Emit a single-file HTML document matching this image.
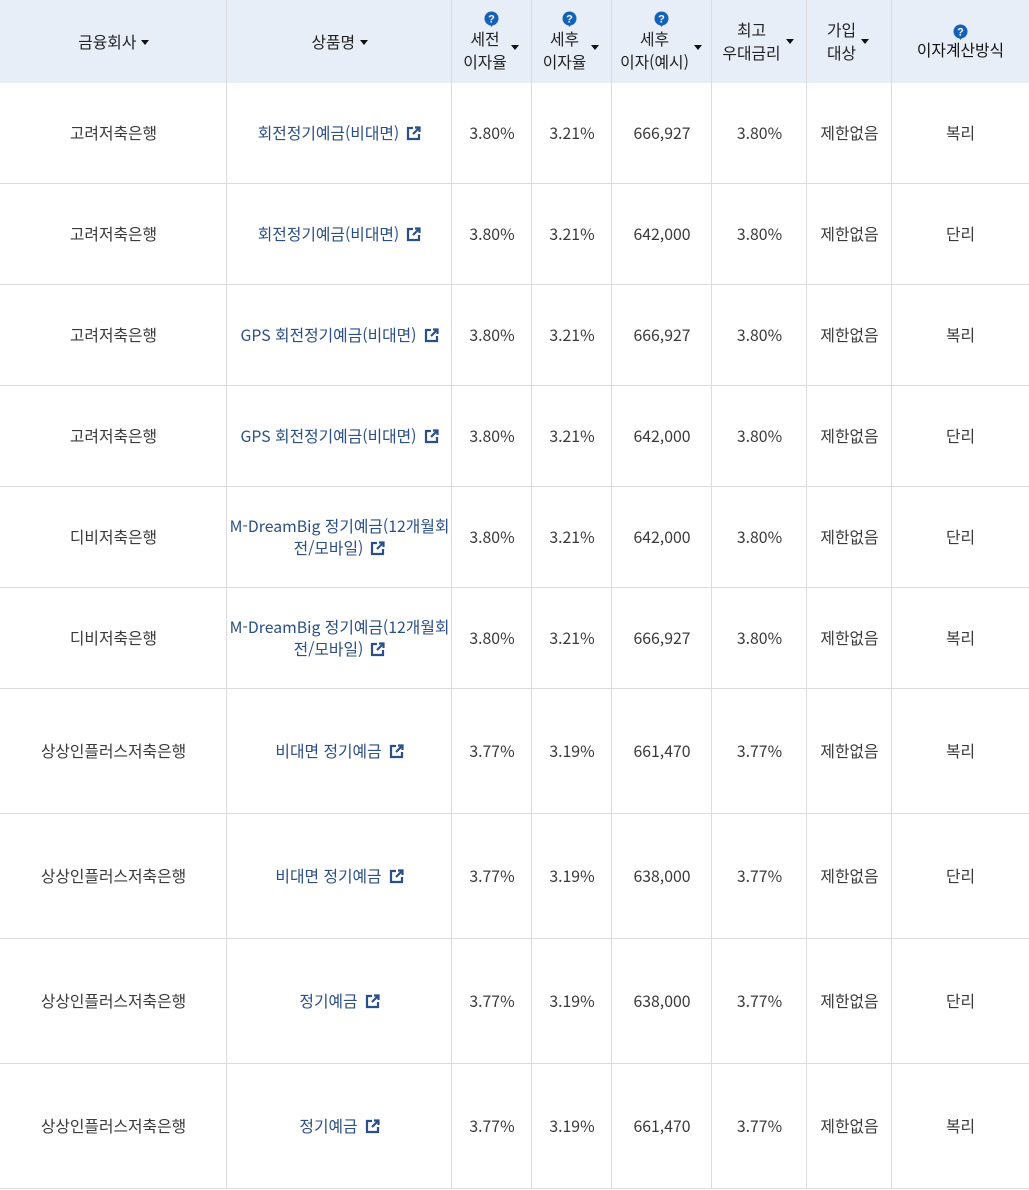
<!DOCTYPE html>
<html lang="ko">
<head>
<meta charset="utf-8">
<style>
*{margin:0;padding:0;box-sizing:border-box}
html,body{width:1029px;height:1190px;background:#fff;overflow:hidden}
body{position:relative;font-family:"Noto Sans CJK KR","Liberation Sans",sans-serif;font-size:15.8px;color:#3a3a3a}
.hd{position:absolute;left:0;top:0;width:1029px;height:83px;background:#e8eef7}
.vl{position:absolute;top:0;width:1px;height:1189px;background:#dcdcdc}
.row{position:absolute;left:0;width:1029px;display:flex;border-bottom:1px solid #dcdcdc}
.row div{display:flex;align-items:center;justify-content:center;text-align:center;line-height:22px}
.c1{width:227px}.c2{width:225px}.c3{width:80px}.c4{width:80px}.c5{width:100px}.c6{width:95px}.c7{width:85px}.c8{width:137px}
.lk{color:#2b4f88}
.lk svg{margin-left:7px;vertical-align:-2px}
.ht{position:absolute;color:#222;line-height:23px;white-space:nowrap;text-align:center}
.tri{display:inline-block;width:0;height:0;border-left:4px solid transparent;border-right:4px solid transparent;border-top:5px solid #111}
.atri{position:absolute}
.q{position:absolute}
</style>
</head>
<body>
<div class="hd"></div>

<div class="ht" style="left:0;top:30px;width:227px">금융회사 <span class="tri" style="vertical-align:3px"></span></div>
<div class="ht" style="left:227px;top:30px;width:225px">상품명 <span class="tri" style="vertical-align:3px"></span></div>

<svg class="q" style="left:484px;top:11px" width="15" height="17" viewBox="0 0 15 17"><circle cx="7.5" cy="7.5" r="7" fill="#1461b9"/><polygon points="5.5,13 9.5,13 7.5,16" fill="#1461b9"/><text x="7.5" y="11.5" font-size="11" font-weight="bold" fill="#fff" text-anchor="middle" font-family="Liberation Sans, sans-serif">?</text></svg>
<div class="ht" style="left:455px;top:27px;width:60px">세전<br>이자율</div>
<span class="tri atri" style="left:511px;top:45px"></span>

<svg class="q" style="left:562px;top:11px" width="15" height="17" viewBox="0 0 15 17"><circle cx="7.5" cy="7.5" r="7" fill="#1461b9"/><polygon points="5.5,13 9.5,13 7.5,16" fill="#1461b9"/><text x="7.5" y="11.5" font-size="11" font-weight="bold" fill="#fff" text-anchor="middle" font-family="Liberation Sans, sans-serif">?</text></svg>
<div class="ht" style="left:534px;top:27px;width:61px">세후<br>이자율</div>
<span class="tri atri" style="left:591px;top:45px"></span>

<svg class="q" style="left:654px;top:11px" width="15" height="17" viewBox="0 0 15 17"><circle cx="7.5" cy="7.5" r="7" fill="#1461b9"/><polygon points="5.5,13 9.5,13 7.5,16" fill="#1461b9"/><text x="7.5" y="11.5" font-size="11" font-weight="bold" fill="#fff" text-anchor="middle" font-family="Liberation Sans, sans-serif">?</text></svg>
<div class="ht" style="left:614px;top:27px;width:81px">세후<br>이자(예시)</div>
<span class="tri atri" style="left:694px;top:45px"></span>

<div class="ht" style="left:716px;top:18px;width:71px">최고<br>우대금리</div>
<span class="tri atri" style="left:786px;top:39px"></span>

<div class="ht" style="left:816px;top:18px;width:51px">가입<br>대상</div>
<span class="tri atri" style="left:861px;top:39px"></span>

<svg class="q" style="left:953px;top:24px" width="15" height="17" viewBox="0 0 15 17"><circle cx="7.5" cy="7.5" r="7" fill="#1461b9"/><polygon points="5.5,13 9.5,13 7.5,16" fill="#1461b9"/><text x="7.5" y="11.5" font-size="11" font-weight="bold" fill="#fff" text-anchor="middle" font-family="Liberation Sans, sans-serif">?</text></svg>
<div class="ht" style="left:892px;top:38px;width:137px;color:#111">이자계산방식</div>

<div class="row" style="top:83px;height:101px"><div class="c1">고려저축은행</div><div class="c2 lk">회전정기예금(비대면)<svg width="15" height="15" viewBox="0 0 15 15"><path d="M7 2H2v11h11V8" fill="none" stroke="#2b4f88" stroke-width="2.2"/><path d="M7 8L13 2M9 1.5h4.5V6" fill="none" stroke="#2b4f88" stroke-width="2.2"/></svg></div><div class="c3">3.80%</div><div class="c4">3.21%</div><div class="c5">666,927</div><div class="c6">3.80%</div><div class="c7">제한없음</div><div class="c8">복리</div></div>

<div class="row" style="top:184px;height:101px"><div class="c1">고려저축은행</div><div class="c2 lk">회전정기예금(비대면)<svg width="15" height="15" viewBox="0 0 15 15"><path d="M7 2H2v11h11V8" fill="none" stroke="#2b4f88" stroke-width="2.2"/><path d="M7 8L13 2M9 1.5h4.5V6" fill="none" stroke="#2b4f88" stroke-width="2.2"/></svg></div><div class="c3">3.80%</div><div class="c4">3.21%</div><div class="c5">642,000</div><div class="c6">3.80%</div><div class="c7">제한없음</div><div class="c8">단리</div></div>

<div class="row" style="top:285px;height:101px"><div class="c1">고려저축은행</div><div class="c2 lk">GPS 회전정기예금(비대면)<svg width="15" height="15" viewBox="0 0 15 15"><path d="M7 2H2v11h11V8" fill="none" stroke="#2b4f88" stroke-width="2.2"/><path d="M7 8L13 2M9 1.5h4.5V6" fill="none" stroke="#2b4f88" stroke-width="2.2"/></svg></div><div class="c3">3.80%</div><div class="c4">3.21%</div><div class="c5">666,927</div><div class="c6">3.80%</div><div class="c7">제한없음</div><div class="c8">복리</div></div>

<div class="row" style="top:386px;height:101px"><div class="c1">고려저축은행</div><div class="c2 lk">GPS 회전정기예금(비대면)<svg width="15" height="15" viewBox="0 0 15 15"><path d="M7 2H2v11h11V8" fill="none" stroke="#2b4f88" stroke-width="2.2"/><path d="M7 8L13 2M9 1.5h4.5V6" fill="none" stroke="#2b4f88" stroke-width="2.2"/></svg></div><div class="c3">3.80%</div><div class="c4">3.21%</div><div class="c5">642,000</div><div class="c6">3.80%</div><div class="c7">제한없음</div><div class="c8">단리</div></div>

<div class="row" style="top:487px;height:101px"><div class="c1">디비저축은행</div><div class="c2 lk"><span>M-DreamBig 정기예금(12개월회<br>전/모바일)<svg width="15" height="15" viewBox="0 0 15 15"><path d="M7 2H2v11h11V8" fill="none" stroke="#2b4f88" stroke-width="2.2"/><path d="M7 8L13 2M9 1.5h4.5V6" fill="none" stroke="#2b4f88" stroke-width="2.2"/></svg></span></div><div class="c3">3.80%</div><div class="c4">3.21%</div><div class="c5">642,000</div><div class="c6">3.80%</div><div class="c7">제한없음</div><div class="c8">단리</div></div>

<div class="row" style="top:588px;height:101px"><div class="c1">디비저축은행</div><div class="c2 lk"><span>M-DreamBig 정기예금(12개월회<br>전/모바일)<svg width="15" height="15" viewBox="0 0 15 15"><path d="M7 2H2v11h11V8" fill="none" stroke="#2b4f88" stroke-width="2.2"/><path d="M7 8L13 2M9 1.5h4.5V6" fill="none" stroke="#2b4f88" stroke-width="2.2"/></svg></span></div><div class="c3">3.80%</div><div class="c4">3.21%</div><div class="c5">666,927</div><div class="c6">3.80%</div><div class="c7">제한없음</div><div class="c8">복리</div></div>

<div class="row" style="top:689px;height:125px"><div class="c1">상상인플러스저축은행</div><div class="c2 lk">비대면 정기예금<svg width="15" height="15" viewBox="0 0 15 15"><path d="M7 2H2v11h11V8" fill="none" stroke="#2b4f88" stroke-width="2.2"/><path d="M7 8L13 2M9 1.5h4.5V6" fill="none" stroke="#2b4f88" stroke-width="2.2"/></svg></div><div class="c3">3.77%</div><div class="c4">3.19%</div><div class="c5">661,470</div><div class="c6">3.77%</div><div class="c7">제한없음</div><div class="c8">복리</div></div>

<div class="row" style="top:814px;height:125px"><div class="c1">상상인플러스저축은행</div><div class="c2 lk">비대면 정기예금<svg width="15" height="15" viewBox="0 0 15 15"><path d="M7 2H2v11h11V8" fill="none" stroke="#2b4f88" stroke-width="2.2"/><path d="M7 8L13 2M9 1.5h4.5V6" fill="none" stroke="#2b4f88" stroke-width="2.2"/></svg></div><div class="c3">3.77%</div><div class="c4">3.19%</div><div class="c5">638,000</div><div class="c6">3.77%</div><div class="c7">제한없음</div><div class="c8">단리</div></div>

<div class="row" style="top:939px;height:125px"><div class="c1">상상인플러스저축은행</div><div class="c2 lk">정기예금<svg width="15" height="15" viewBox="0 0 15 15"><path d="M7 2H2v11h11V8" fill="none" stroke="#2b4f88" stroke-width="2.2"/><path d="M7 8L13 2M9 1.5h4.5V6" fill="none" stroke="#2b4f88" stroke-width="2.2"/></svg></div><div class="c3">3.77%</div><div class="c4">3.19%</div><div class="c5">638,000</div><div class="c6">3.77%</div><div class="c7">제한없음</div><div class="c8">단리</div></div>

<div class="row" style="top:1064px;height:125px"><div class="c1">상상인플러스저축은행</div><div class="c2 lk">정기예금<svg width="15" height="15" viewBox="0 0 15 15"><path d="M7 2H2v11h11V8" fill="none" stroke="#2b4f88" stroke-width="2.2"/><path d="M7 8L13 2M9 1.5h4.5V6" fill="none" stroke="#2b4f88" stroke-width="2.2"/></svg></div><div class="c3">3.77%</div><div class="c4">3.19%</div><div class="c5">661,470</div><div class="c6">3.77%</div><div class="c7">제한없음</div><div class="c8">복리</div></div>

<div class="vl" style="left:226px"></div>
<div class="vl" style="left:451px"></div>
<div class="vl" style="left:531px"></div>
<div class="vl" style="left:611px"></div>
<div class="vl" style="left:711px"></div>
<div class="vl" style="left:806px"></div>
<div class="vl" style="left:891px"></div>
</body>
</html>
